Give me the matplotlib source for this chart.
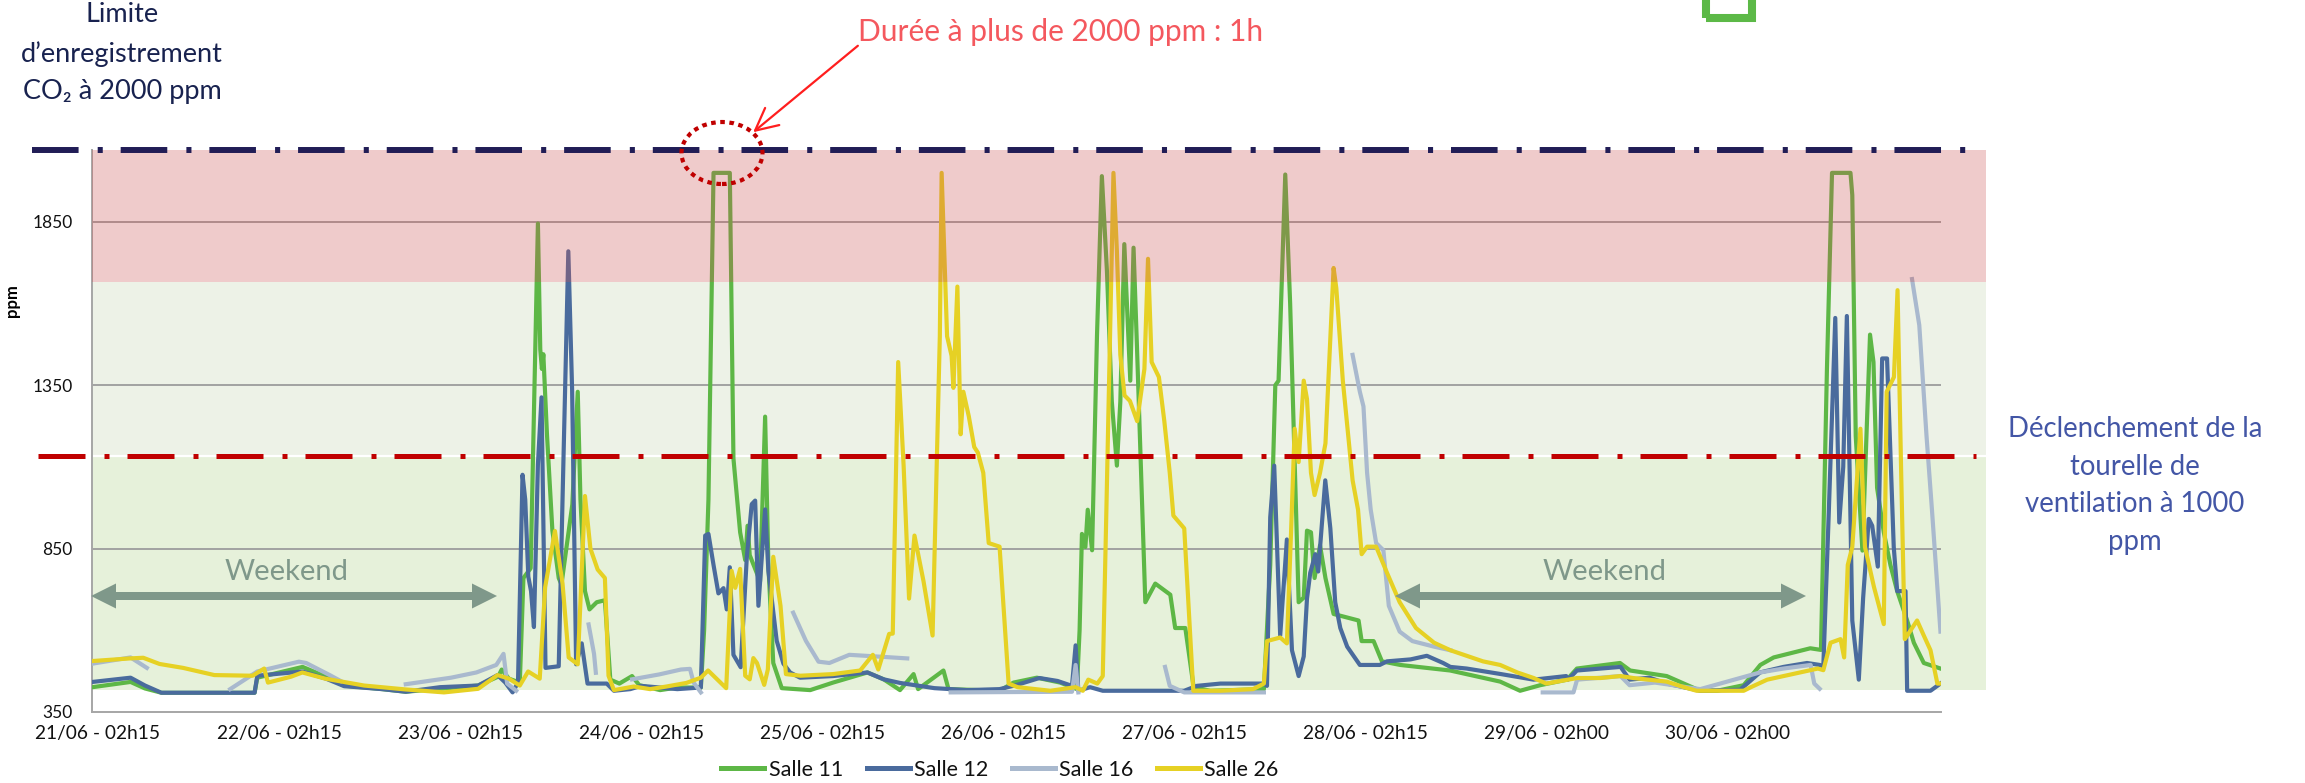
import numpy as np
import matplotlib
matplotlib.use("Agg")
import matplotlib.pyplot as plt
from matplotlib.patches import Ellipse, Polygon, Rectangle, FancyArrowPatch

plt.rcParams['font.family'] = ['Lato', 'DejaVu Sans']

W, H = 2305, 783

day_ticks = [0, 1, 2, 3, 4, 5, 6, 7, 8, 9]
day_labels = ["21/06 - 02h15", "22/06 - 02h15", "23/06 - 02h15", "24/06 - 02h15",
              "25/06 - 02h15", "26/06 - 02h15", "27/06 - 02h15", "28/06 - 02h15",
              "29/06 - 02h00", "30/06 - 02h00"]
y_ticks = [350, 850, 1350, 1850]

# niveaux de référence (tels que dessinés sur le graphique)
LIMIT_LINE = 2070
TRIGGER_LINE = 1134
RED_ZONE = 1665
GREEN_BOTTOM = 418

# (jour depuis 21/06 02h15, ppm)
s11 = [(-0.03, 426), (0.18, 442), (0.26, 422), (0.35, 409), (0.865, 409), (0.88, 455),
       (1.13, 488), (1.26, 458), (1.36, 431), (1.57, 420), (1.70, 412), (2.10, 431),
       (2.21, 458), (2.23, 480), (2.27, 452), (2.33, 440), (2.35, 760), (2.39, 790),
       (2.43, 1845), (2.443, 1460), (2.452, 1400), (2.46, 1445), (2.48, 1200), (2.51, 905),
       (2.545, 760), (2.56, 740), (2.62, 985), (2.65, 1330), (2.665, 1000), (2.69, 720),
       (2.715, 664), (2.755, 686), (2.80, 692), (2.83, 449), (2.88, 437), (2.95, 460),
       (2.99, 432), (3.105, 417), (3.20, 425), (3.33, 425), (3.348, 600), (3.372, 1000),
       (3.40, 2000), (3.49, 2000), (3.51, 1126), (3.547, 900), (3.575, 815), (3.588, 920),
       (3.60, 830), (3.657, 750), (3.685, 1254), (3.703, 800), (3.73, 500), (3.777, 423),
       (3.934, 417), (4.06, 440), (4.25, 471), (4.34, 450), (4.43, 417), (4.505, 466),
       (4.53, 420), (4.67, 477), (4.698, 420), (4.98, 415), (5.057, 440), (5.186, 455),
       (5.315, 440), (5.407, 420), (5.422, 600), (5.435, 895), (5.454, 855), (5.467, 969),
       (5.491, 845), (5.518, 1500), (5.545, 1990), (5.573, 1700), (5.60, 1300), (5.628, 1104),
       (5.647, 1300), (5.669, 1782), (5.702, 1364), (5.72, 1771), (5.739, 1466), (5.785, 686),
       (5.84, 743), (5.923, 709), (5.95, 607), (6.006, 607), (6.052, 426), (6.144, 415),
       (6.44, 420), (6.475, 800), (6.503, 1350), (6.521, 1364), (6.558, 1995), (6.585, 1600),
       (6.632, 686), (6.66, 700), (6.678, 905), (6.70, 900), (6.72, 760), (6.75, 860),
       (6.78, 760), (6.825, 650), (6.963, 630), (6.98, 567), (7.046, 567), (7.092, 505),
       (7.193, 494), (7.469, 477), (7.745, 443), (7.855, 415), (7.966, 432), (8.114, 449),
       (8.169, 483), (8.407, 500), (8.463, 477), (8.665, 460), (8.85, 415), (8.943, 415),
       (9.09, 432), (9.182, 494), (9.256, 517), (9.458, 545), (9.517, 540), (9.55, 1400),
       (9.578, 2000), (9.68, 2000), (9.69, 1932), (9.709, 1195), (9.746, 844), (9.788, 1505),
       (9.807, 1421), (9.827, 1036), (9.864, 900), (9.901, 799), (9.938, 720), (9.993, 630),
       (10.03, 562), (10.085, 500), (10.177, 483)]

s12 = [(-0.03, 442), (0.18, 455), (0.26, 431), (0.35, 409), (0.865, 409), (0.88, 461),
       (1.13, 474), (1.26, 452), (1.36, 429), (1.57, 420), (1.70, 412), (1.89, 426),
       (2.10, 431), (2.207, 463), (2.25, 440), (2.29, 410), (2.32, 440), (2.345, 1076),
       (2.36, 1000), (2.377, 764), (2.392, 720), (2.408, 610), (2.43, 1108), (2.45, 1313),
       (2.472, 485), (2.545, 490), (2.566, 1000), (2.598, 1760), (2.619, 1334), (2.641, 496),
       (2.672, 560), (2.704, 437), (2.81, 437), (2.85, 415), (2.94, 420), (3.0, 430),
       (3.2, 420), (3.33, 425), (3.354, 890), (3.372, 895), (3.40, 800), (3.427, 713),
       (3.455, 729), (3.473, 664), (3.49, 793), (3.51, 525), (3.55, 487), (3.584, 825),
       (3.611, 986), (3.63, 997), (3.648, 675), (3.685, 970), (3.703, 782), (3.749, 568),
       (3.786, 498), (3.823, 471), (3.878, 455), (4.06, 460), (4.25, 471), (4.34, 450),
       (4.43, 439), (4.62, 423), (4.80, 417), (4.98, 420), (5.07, 432), (5.2, 454),
       (5.3, 445), (5.38, 430), (5.40, 554), (5.415, 415), (5.48, 426), (5.55, 415),
       (6.0, 415), (6.07, 430), (6.2, 437), (6.44, 437), (6.457, 430), (6.475, 946),
       (6.497, 1104), (6.53, 584), (6.567, 878), (6.595, 539), (6.632, 460), (6.66, 520),
       (6.678, 697), (6.696, 776), (6.724, 833), (6.74, 780), (6.779, 1059), (6.807, 912),
       (6.834, 686), (6.862, 607), (6.90, 550), (6.97, 494), (7.08, 494), (7.12, 505),
       (7.25, 511), (7.34, 522), (7.43, 500), (7.47, 488), (7.56, 483), (7.75, 466),
       (7.93, 449), (8.11, 460), (8.12, 449), (8.169, 477), (8.30, 483), (8.41, 488),
       (8.46, 449), (8.57, 455), (8.665, 437), (8.85, 415), (9.07, 418), (9.18, 471),
       (9.31, 488), (9.44, 500), (9.51, 494), (9.53, 490), (9.56, 958), (9.596, 1556),
       (9.618, 930), (9.64, 1100), (9.66, 1562), (9.69, 630), (9.726, 449), (9.75, 700),
       (9.781, 941), (9.80, 920), (9.831, 795), (9.855, 1432), (9.882, 1432), (9.919, 855),
       (9.938, 720), (9.984, 720), (9.993, 415), (10.122, 415), (10.177, 437)]

nan = np.nan
s16 = [(-0.03, 498), (0.18, 517), (0.27, 485), (0.28, nan), (0.73, 420), (0.88, 474),
       (1.11, 504), (1.15, 500), (1.28, 463), (1.34, 445), (1.35, nan), (1.70, 435),
       (1.95, 455), (2.09, 471), (2.20, 494), (2.24, 528), (2.26, 437), (2.31, 415),
       (2.33, nan), (2.71, 618), (2.74, 528), (2.75, 470), (2.76, nan), (2.95, 450),
       (3.10, 465), (3.22, 480), (3.27, 482), (3.29, 440), (3.33, 410), (3.34, nan),
       (3.84, 654), (3.91, 568), (3.98, 504), (4.04, 500), (4.15, 525), (4.30, 520),
       (4.47, 514), (4.48, nan), (4.71, 410), (5.38, 412), (5.40, 494), (5.415, 410),
       (5.44, nan), (5.894, 488), (5.92, 430), (6.0, 410), (6.44, 410), (6.45, nan),
       (6.93, 1443), (6.97, 1330), (6.99, 1285), (7.01, 1082), (7.03, 969), (7.06, 867),
       (7.10, 845), (7.13, 675), (7.19, 596), (7.26, 567), (7.38, 550), (7.47, 539),
       (7.48, nan), (7.98, 410), (8.15, 410), (8.17, 449), (8.30, 455), (8.41, 460),
       (8.46, 432), (8.6, 440), (8.85, 420), (9.18, 471), (9.31, 483), (9.46, 494),
       (9.48, 437), (9.51, 421), (9.52, nan), (10.02, 1675), (10.06, 1534), (10.10, 1195),
       (10.13, 969), (10.177, 596)]

s26 = [(-0.03, 506), (0.177, 514), (0.25, 516), (0.34, 497), (0.47, 485), (0.643, 463),
       (0.854, 461), (0.918, 483), (0.939, 440), (1.066, 458), (1.129, 471), (1.256, 452),
       (1.47, 431), (1.70, 419), (1.911, 410), (2.10, 421), (2.207, 463), (2.27, 452),
       (2.33, 431), (2.376, 474), (2.44, 452), (2.47, 732), (2.524, 904), (2.566, 743),
       (2.60, 517), (2.65, 496), (2.69, 1011), (2.72, 850), (2.76, 786), (2.80, 760),
       (2.82, 461), (2.85, 417), (2.96, 428), (3.05, 420), (3.14, 428), (3.25, 439),
       (3.33, 455), (3.37, 477), (3.42, 450), (3.47, 423), (3.50, 782), (3.52, 730),
       (3.547, 788), (3.575, 461), (3.60, 450), (3.62, 515), (3.64, 500), (3.68, 433),
       (3.70, 480), (3.73, 825), (3.77, 675), (3.80, 466), (3.88, 461), (4.06, 466),
       (4.21, 477), (4.28, 525), (4.31, 480), (4.37, 589), (4.39, 590), (4.42, 1421),
       (4.45, 1104), (4.48, 697), (4.51, 890), (4.56, 750), (4.61, 584), (4.65, 1500),
       (4.66, 2000), (4.69, 1500), (4.715, 1440), (4.725, 1342), (4.747, 1652),
       (4.765, 1200), (4.78, 1330), (4.81, 1255), (4.84, 1161), (4.86, 1144), (4.89, 1082),
       (4.92, 867), (4.98, 856), (5.03, 437), (5.08, 426), (5.26, 415), (5.40, 426),
       (5.44, 415), (5.47, 449), (5.52, 437), (5.55, 460), (5.57, 969), (5.609, 2000),
       (5.628, 1760), (5.647, 1443), (5.67, 1319), (5.70, 1302), (5.74, 1240), (5.78, 1400),
       (5.80, 1737), (5.82, 1421), (5.86, 1375), (5.89, 1240), (5.92, 1082), (5.94, 951),
       (6.0, 912), (6.05, 415), (6.2, 415), (6.38, 420), (6.44, 437), (6.457, 567),
       (6.53, 578), (6.567, 560), (6.59, 900), (6.61, 1217), (6.632, 1115), (6.66, 1364),
       (6.678, 1308), (6.70, 1082), (6.72, 1014), (6.75, 1082), (6.78, 1172), (6.825, 1709),
       (6.84, 1647), (6.876, 1364), (6.93, 1059), (6.96, 969), (6.98, 833), (7.01, 856),
       (7.06, 856), (7.12, 776), (7.19, 686), (7.28, 607), (7.38, 562), (7.47, 539),
       (7.56, 522), (7.65, 505), (7.745, 494), (7.84, 471), (7.93, 454), (8.0, 437),
       (8.17, 454), (8.30, 454), (8.41, 460), (8.48, 454), (8.665, 443), (8.76, 426),
       (8.83, 415), (9.09, 415), (9.13, 426), (9.22, 449), (9.31, 460), (9.40, 471),
       (9.50, 483), (9.53, 478), (9.57, 562), (9.625, 573), (9.645, 517), (9.665, 800),
       (9.69, 855), (9.735, 1217), (9.76, 855), (9.81, 732), (9.864, 619), (9.88, 1330),
       (9.92, 1375), (9.94, 1641), (9.96, 1082), (9.98, 573), (10.048, 630), (10.085, 584),
       (10.122, 539), (10.16, 437), (10.177, 437)]

series = [("Salle 11", s11, "#5DB746"), ("Salle 12", s12, "#4A6B9D"),
          ("Salle 16", s16, "#A9B9CE"), ("Salle 26", s26, "#E6D124")]


def fx(px):
    return px / W


def fy(py):
    return 1 - py / H


fig = plt.figure(figsize=(W / 100, H / 100), dpi=100)
ax_left, ax_right, ax_top, ax_bot = 92, 1941, 150, 712
ax = fig.add_axes([fx(ax_left), fy(ax_bot), (ax_right - ax_left) / W, (ax_bot - ax_top) / H])
ax.set_xlim(-0.033, 10.18)
ax.set_ylim(350, LIMIT_LINE)


def axfrac(px):
    return (px - ax_left) / (ax_right - ax_left)


band_end = axfrac(1986)
ax.axhspan(GREEN_BOTTOM, TRIGGER_LINE, xmin=0, xmax=band_end, color="#E6F1DA", lw=0, zorder=0, clip_on=False)
ax.axhspan(TRIGGER_LINE, RED_ZONE, xmin=0, xmax=band_end, color="#EDF2E7", lw=0, zorder=0, clip_on=False)
ax.axhspan(RED_ZONE, LIMIT_LINE, xmin=0, xmax=band_end, color=(205 / 255, 85 / 255, 85 / 255),
           alpha=0.3, lw=0, zorder=4, clip_on=False)

for yv in y_ticks[1:]:
    ax.axhline(yv, color="#9C9C9C", lw=1.3, zorder=1)

for name, pts, col in series:
    arr = np.array(pts, dtype=float)
    ax.plot(arr[:, 0], arr[:, 1], color=col, lw=3.0, label=name, zorder=3,
            solid_joinstyle="round")

# ligne de déclenchement
ax.axhline(TRIGGER_LINE, xmin=0, xmax=band_end, color="white", lw=1.6, zorder=2, clip_on=False)
ax.axhline(TRIGGER_LINE, xmin=axfrac(38), xmax=axfrac(1976), color="#C00000", lw=3.6,
           ls=(0, (9.4, 3.8, 1.0, 3.6)), dash_capstyle="butt", zorder=5, clip_on=False)
# limite d'enregistrement
ax.axhline(LIMIT_LINE, xmin=axfrac(32), xmax=axfrac(1968), color="#211D56", lw=4.3,
           ls=(0, (7.8, 3.2, 0.85, 3.0)), dash_capstyle="butt", zorder=6, clip_on=False)

for side in ["top", "right"]:
    ax.spines[side].set_visible(False)
for side in ["left", "bottom"]:
    ax.spines[side].set_color("#A6A6A6")
    ax.spines[side].set_linewidth(1.4)

ax.set_yticks(y_ticks)
ax.set_xticks(day_ticks)
ax.set_xticklabels(day_labels)
ax.tick_params(axis="y", length=0, pad=14, labelsize=12.5, labelcolor="#111111")
ax.tick_params(axis="x", length=0, pad=9, labelsize=13.8, labelcolor="#111111")

leg = ax.legend(loc="center", bbox_to_anchor=(fx(1000), fy(770)), bbox_transform=fig.transFigure,
                ncol=4, frameon=False, fontsize=15.5, handlelength=2.0, handletextpad=0.2,
                columnspacing=1.1)
for t in leg.get_texts():
    t.set_color("#111111")
for hl in leg.get_lines():
    hl.set_linewidth(3.6)

fig.text(fx(12), fy(301), "ppm", rotation=90, fontsize=12, fontweight="bold",
         ha="center", va="center")

navy = "#18224F"
for txt, yy in [("Limite", 15), ("d\u2019enregistrement", 54), ("CO\u2082 à 2000 ppm", 92)]:
    fig.text(fx(122), fy(yy), txt, fontsize=19.5, color=navy, ha="center", va="center")

fig.text(fx(1061), fy(32), "Durée à plus de 2000 ppm : 1h", fontsize=21.5, color="#F4585E",
         ha="center", va="center")
fig.add_artist(FancyArrowPatch((fx(860), fy(44)), (fx(751), fy(134)), transform=fig.transFigure,
                               arrowstyle="->,head_length=0.8,head_width=0.4", mutation_scale=20,
                               color="#FF1E1E", lw=1.6))
fig.add_artist(Ellipse((fx(722), fy(153)), 81 / W, 62 / H, transform=fig.transFigure, fill=False,
                       ec="#C00000", lw=3, ls=(0, (1.1, 1.1))))

blue_txt = "#4356A6"
for txt, yy in [("Déclenchement de la", 429), ("tourelle de", 467),
                ("ventilation à 1000", 504), ("ppm", 542)]:
    fig.text(fx(2135), fy(yy), txt, fontsize=19.8, color=blue_txt, ha="center", va="center")

wk = "#7F988A"


def double_arrow(x1, x2, y, half=4, head=25, hw=12.5):
    pts = [(x1, y), (x1 + head, y - hw), (x1 + head, y - half), (x2 - head, y - half),
           (x2 - head, y - hw), (x2, y), (x2 - head, y + hw), (x2 - head, y + half),
           (x1 + head, y + half), (x1 + head, y + hw)]
    fig.add_artist(Polygon([(fx(a), fy(b)) for a, b in pts], closed=True, transform=fig.transFigure,
                           fc=wk, ec="none"))


double_arrow(91, 497, 596)
double_arrow(1395, 1806, 596)
fig.text(fx(287), fy(572), "Weekend", fontsize=21, color=wk, ha="center", va="center")
fig.text(fx(1605), fy(572), "Weekend", fontsize=21, color=wk, ha="center", va="center")

fig.add_artist(Rectangle((fx(1706), fy(18)), 46 / W, 40 / H, transform=fig.transFigure, fill=False,
                         ec="#5CB947", lw=5.8, clip_on=False))

fig.savefig("out.png", dpi=100)
